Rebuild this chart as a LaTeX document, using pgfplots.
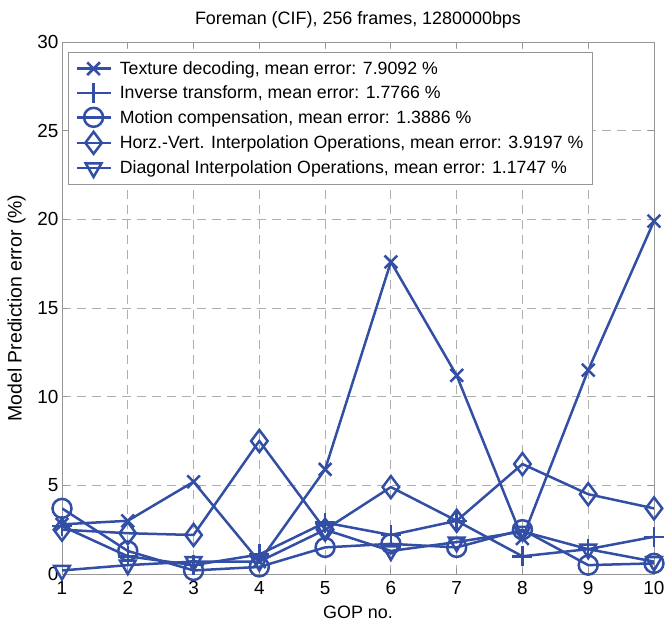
\documentclass[border=0pt]{standalone}
\usepackage{fontspec}
\setmainfont{Liberation Sans}
\usepackage{pgfplots}
\pgfplotsset{compat=1.18}

\definecolor{lineblue}{RGB}{50,78,165}
\definecolor{gridgray}{RGB}{175,175,175}
\definecolor{boxgray}{RGB}{150,150,150}

\pgfplotstableread{
x texture inverse motion hv diag
1 2.8 2.7 3.7 2.5 0.2
2 3.0 1.0 1.3 2.3 0.5
3 5.2 0.5 0.2 2.2 0.7
4 0.7 1.1 0.4 7.5 0.7
5 5.9 2.9 1.5 2.5 2.5
6 17.6 2.2 1.7 4.9 1.3
7 11.2 3.0 1.5 3.0 1.8
8 2.0 1.0 2.5 6.2 2.4
9 11.5 1.4 0.5 4.5 1.4
10 19.9 2.1 0.6 3.7 0.7
}\gopdata

\begin{document}
\begin{tikzpicture}
\useasboundingbox (-62bp,-53bp) rectangle (604bp,574bp);
\begin{axis}[
  scale only axis, width=592bp, height=532bp,
  xmin=1, xmax=10, ymin=0, ymax=30,
  xtick={1,...,10}, ytick={0,5,...,30},
  axis line style={boxgray, line width=0.8bp},
  tick style={boxgray, line width=0.8bp}, major tick length=6bp,
  tick align=inside, tick pos=both,
  grid=major, grid style={gridgray, dash pattern=on 9bp off 6bp, line width=0.8bp},
  ticklabel style={font=\fontsize{19}{21}\selectfont},
  xticklabel style={yshift=-4bp},
  /pgf/number format/assume math mode=true,
  xlabel={GOP no.}, ylabel={Model Prediction error (\%)},
  xlabel style={font=\fontsize{18}{21}\selectfont, yshift=-4bp},
  ylabel style={font=\fontsize{19.5}{22}\selectfont, yshift=5bp},
  title={Foreman (CIF), 256 frames, 1280000bps},
  title style={font=\fontsize{18}{21}\selectfont, yshift=4bp},
  every axis plot/.append style={lineblue, line width=2.5bp, mark options={solid, fill=none, line width=2.5bp}},
  legend style={at={(0.01,0.981)}, anchor=north west, draw=boxgray, fill=white,
    font=\fontsize{17.8}{21}\selectfont, row sep=5bp, inner xsep=7bp, inner ysep=7bp, line width=0.8bp},
  legend cell align=left,
  legend image code/.code={\draw[mark repeat=2, mark phase=2] plot coordinates {(0bp,0bp) (17bp,0bp) (34bp,0bp)}; \path (40bp,0bp);},
]
\addplot[mark=x, mark size=9bp] table[x=x, y=texture] {\gopdata};
\addlegendentry{Texture decoding, mean error: 7.9092 \%}
\addplot[mark=+, mark size=10bp] table[x=x, y=inverse] {\gopdata};
\addlegendentry{Inverse transform, mean error: 1.7766 \%}
\addplot[mark=o, mark size=9.5bp] table[x=x, y=motion] {\gopdata};
\addlegendentry{Motion compensation, mean error: 1.3886 \%}
\addplot[mark=diamond, mark size=11bp] table[x=x, y=hv] {\gopdata};
\addlegendentry{Horz.-Vert. Interpolation Operations, mean error: 3.9197 \%}
\addplot[mark=triangle, mark size=9bp, mark options={rotate=180}] table[x=x, y=diag] {\gopdata};
\addlegendentry{Diagonal Interpolation Operations, mean error: 1.1747 \%}
\end{axis}
\end{tikzpicture}
\end{document}
